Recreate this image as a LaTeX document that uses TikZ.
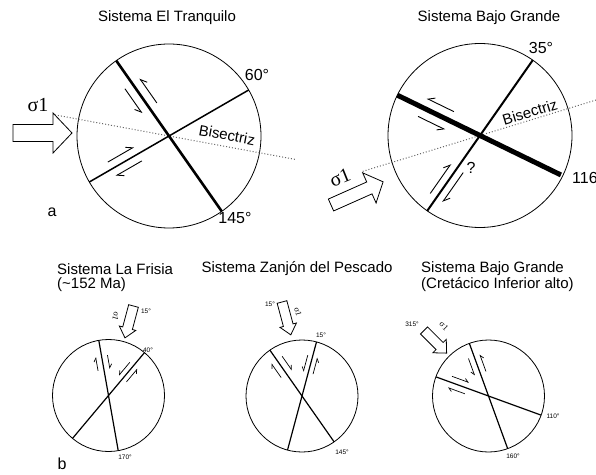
\documentclass[tikz,border=0pt]{standalone}
\usepackage{fontspec}
\setmainfont{Liberation Sans}
\newfontfamily\sigmafont{Liberation Serif}
\usepackage{tikz}
\usetikzlibrary{arrows.meta}

\tikzset{
  net/.style={line width=0.8pt},
  fault/.style={line width=1.5pt},
  mainfault/.style={line width=2.6pt},
  heavyfault/.style={line width=5pt},
  thinfault/.style={line width=1.2pt},
  bisec/.style={dotted,gray!80!black,line width=1pt},
  slipL/.style={line width=0.9pt,-{Straight Barb[harpoon,length=6pt,width=8pt]}},
  slipR/.style={line width=0.9pt,-{Straight Barb[harpoon,swap,length=6pt,width=8pt]}},
  smallslipL/.style={line width=0.7pt,-{Straight Barb[harpoon,length=3.5pt,width=5pt]}},
  smallslipR/.style={line width=0.7pt,-{Straight Barb[harpoon,swap,length=3.5pt,width=5pt]}},
  blockarrow/.style={draw,fill=white,line width=0.8pt,line join=miter},
  titletext/.style={font=\fontsize{15}{16}\selectfont,inner sep=1pt},
  deglabel/.style={font=\fontsize{16}{17}\selectfont,inner sep=1pt},
  smalldeg/.style={font=\fontsize{6.5}{7}\selectfont,inner sep=0.5pt},
  sigmalabel/.style={font=\sigmafont\fontsize{20}{22}\selectfont,inner sep=1pt},
  smallsigma/.style={font=\sigmafont\fontsize{8.5}{9}\selectfont,inner sep=0.5pt},
}
% pair of opposite half arrows beside a fault (local frame: x along fault)
\newcommand{\shearpair}[4]{%
  \draw[#4] (#1,#3) -- (#2,#3);
  \draw[#4] (#2,-#3) -- (#1,-#3);}
% hollow sigma1 arrow: length, head length, half shaft, half head
\newcommand{\sigarrow}[4]{%
  \draw[blockarrow] (0,-#3) -- ({#1-#2},-#3) -- ({#1-#2},-#4) -- (#1,0)
    -- ({#1-#2},#4) -- ({#1-#2},#3) -- (0,#3) -- cycle;}

\begin{document}
\begin{tikzpicture}[x=1pt,y=1pt]
\useasboundingbox (0,0) rectangle (596,474);
% (a) left: El Tranquilo
\node[titletext] (t1) at (167,456) {Sistema El Tranquilo};
\coordinate (c1) at (169,338);
\draw[net] (c1) circle (92);
\draw[bisec] ([shift={(169.5:116)}]c1) -- ([shift={(-10.5:128)}]c1);
\draw[fault] ([shift={(30:92)}]c1) -- ([shift={(210:92)}]c1);
\draw[mainfault] ([shift={(125:92)}]c1) -- ([shift={(-55:92)}]c1);
\begin{scope}[shift={(c1)},rotate=125]
  \shearpair{64}{34}{9}{slipR}
\end{scope}
\begin{scope}[shift={(c1)},rotate=30]
  \shearpair{-66}{-36}{8}{slipL}
\end{scope}
\begin{scope}[shift={(13,341)}]
  \sigarrow{59}{19}{8.5}{20}
\end{scope}
\node[sigmalabel] (s1) at (38,369) {σ1};
\node[deglabel] (d60) at (257,399) {60°};
\node[deglabel] (d145) at (235,256) {145°};
\node[deglabel,font=\fontsize{15}{16}\selectfont,rotate=-10.5] (b1) at (227,339) {Bisectriz};
\node[deglabel] (la) at (52,262) {a};

% (a) right: Bajo Grande
\node[titletext] (t2) at (489,456) {Sistema Bajo Grande};
\coordinate (c2) at (480,338.5);
\draw[net] (c2) circle (92);
\draw[bisec] ([shift={(197:122.7)}]c2) -- ([shift={(17:135)}]c2);
\draw[fault,line width=2pt] ([shift={(55:92)}]c2) -- ([shift={(235:92)}]c2);
\draw[heavyfault] ([shift={(154:92)}]c2) -- ([shift={(-26:90)}]c2);
\begin{scope}[shift={(c2)},rotate=154]
  \shearpair{64}{34}{10}{slipR}
\end{scope}
\begin{scope}[shift={(c2)},rotate=55]
  \shearpair{-76}{-40}{7.5}{slipL}
\end{scope}
\begin{scope}[shift={(331,269)},rotate=24]
  \sigarrow{57}{15}{6.5}{16.5}
\end{scope}
\node[sigmalabel,rotate=22] (s2) at (340,296) {σ1};
\node[deglabel] (d35) at (541,426) {35°};
\node[deglabel,anchor=west] (d116) at (571,296) {116°};
\node[deglabel,font=\fontsize{15}{16}\selectfont,rotate=17] (b2) at (530,362) {Bisectriz};
\node[deglabel] (q) at (471,306) {?};

% (b) three small nets
\coordinate (c3) at (108.5,78.5);
\coordinate (c4) at (302,78);
\coordinate (c5) at (488.5,78);
\foreach \c/\fa/\fb in {c3/100/50,c4/125/75,c5/110/160}{
  \draw[net] (\c) circle (56);
  \draw[thinfault] ([shift={(\fa:56)}]\c) -- ([shift={(\fa+180:56)}]\c);
  \draw[thinfault] ([shift={(\fb:56)}]\c) -- ([shift={(\fb+180:56)}]\c);
}
% La Frisia
\node[titletext,anchor=west] (t3) at (56,205) {Sistema La Frisia};
\node[titletext,anchor=west] (t3b) at (56,189) {(\textasciitilde152 Ma)};
\begin{scope}[shift={(c3)},rotate=100]
  \shearpair{26}{40}{6}{smallslipL}
\end{scope}
\begin{scope}[shift={(c3)},rotate=50]
  \shearpair{39}{22}{5}{smallslipR}
\end{scope}
\begin{scope}[shift={(133.5,168)},rotate=-105]
  \sigarrow{33}{10}{5}{8.5}
\end{scope}
\node[smallsigma,rotate=-105] (s3) at (116,158) {σ1};
\node[smalldeg] (d15a) at (146,163) {15°};
\node[smalldeg] (d40) at (148,124) {40°};
\node[smalldeg] (d170) at (125,17) {170°};
\node[deglabel] (lb) at (62,10) {b};

% Zanjon del Pescado
\node[titletext] (t4) at (297,205) {Sistema Zanjón del Pescado};
\begin{scope}[shift={(c4)},rotate=125]
  \shearpair{27}{44}{6.5}{smallslipL}
\end{scope}
\begin{scope}[shift={(c4)},rotate=75]
  \shearpair{41}{24}{5}{smallslipR}
\end{scope}
\begin{scope}[shift={(282,172)},rotate=-75]
  \sigarrow{34}{10}{5}{8.5}
\end{scope}
\node[smallsigma,rotate=-75] (s4) at (298,162) {σ1};
\node[smalldeg] (d15b) at (270,170) {15°};
\node[smalldeg] (d15c) at (321,139) {15°};
\node[smalldeg] (d145b) at (342,22) {145°};

% Bajo Grande (Cretacico)
\node[titletext,anchor=west] (t5) at (420,205) {Sistema Bajo Grande};
\node[titletext,anchor=west] (t5b) at (420,189) {(Cretácico Inferior alto)};
\begin{scope}[shift={(c5)},rotate=110]
  \shearpair{42}{24}{6}{smallslipR}
\end{scope}
\begin{scope}[shift={(c5)},rotate=160]
  \shearpair{23}{41}{6}{smallslipL}
\end{scope}
\begin{scope}[shift={(424,143.5)},rotate=-45]
  \sigarrow{32}{10}{5}{9.5}
\end{scope}
\node[smallsigma,rotate=-45] (s5) at (444,148) {σ1};
\node[smalldeg] (d315) at (412,150) {315°};
\node[smalldeg] (d110) at (553,58) {110°};
\node[smalldeg] (d160) at (513,18) {160°};
\end{tikzpicture}
\end{document}
